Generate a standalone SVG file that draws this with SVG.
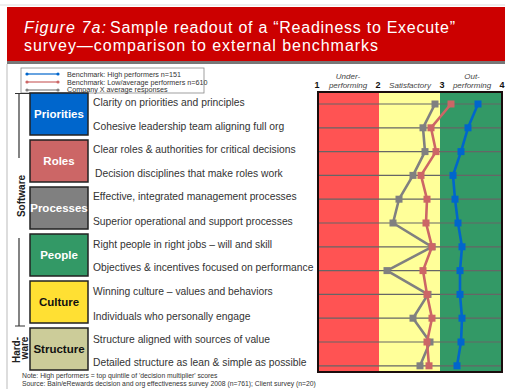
<svg xmlns="http://www.w3.org/2000/svg" width="505" height="389" viewBox="0 0 505 389">
<style>
.t{font-family:"Liberation Sans",Arial,sans-serif}
.item{font-family:"Liberation Sans",Arial,sans-serif;font-size:10.3px;fill:#333}
.nl{font-family:"Liberation Sans",Arial,sans-serif;font-size:11.5px;font-weight:bold;text-anchor:middle}
.box{stroke:#222;stroke-width:1.5}
.grid{stroke:#666;stroke-width:1.2}
.ax{font-family:"Liberation Sans",Arial,sans-serif;font-size:9px;font-weight:bold;fill:#111;text-anchor:middle}
.zl{font-family:"Liberation Sans",Arial,sans-serif;font-size:8px;font-style:italic;fill:#444;text-anchor:middle}
.lg{font-family:"Liberation Sans",Arial,sans-serif;font-size:7.2px;fill:#333}
.note{font-family:"Liberation Sans",Arial,sans-serif;font-size:6.8px;fill:#333}
.br{stroke:#333;stroke-width:1.2;fill:none}
.side{font-family:"Liberation Sans",Arial,sans-serif;font-size:10px;font-weight:bold;fill:#222;text-anchor:middle}
</style>
<defs>
<marker id="mb" markerWidth="8" markerHeight="8" refX="4" refY="4" markerUnits="userSpaceOnUse"><rect x="0.5" y="0.5" width="7" height="7" fill="#0066CC"/></marker>
<marker id="mr" markerWidth="8" markerHeight="8" refX="4" refY="4" markerUnits="userSpaceOnUse"><rect x="0.5" y="0.5" width="7" height="7" fill="#CC6666"/></marker>
<marker id="mg" markerWidth="8" markerHeight="8" refX="4" refY="4" markerUnits="userSpaceOnUse"><rect x="0.5" y="0.5" width="7" height="7" fill="#808080"/></marker>
<marker id="sb" markerWidth="4" markerHeight="4" refX="2" refY="2" markerUnits="userSpaceOnUse"><circle cx="2" cy="2" r="1.6" fill="#0066CC"/></marker>
<marker id="sr" markerWidth="4" markerHeight="4" refX="2" refY="2" markerUnits="userSpaceOnUse"><circle cx="2" cy="2" r="1.6" fill="#CC6666"/></marker>
<marker id="sg" markerWidth="4" markerHeight="4" refX="2" refY="2" markerUnits="userSpaceOnUse"><circle cx="2" cy="2" r="1.6" fill="#808080"/></marker>
</defs>
<rect width="505" height="389" fill="#fff"/>
<!-- title -->
<g id="title">
<line x1="0" y1="5" x2="505" y2="5" stroke="#ddd" stroke-width="1"/>
<rect x="7" y="7" width="498" height="54" fill="#CC0000"/>
<rect x="7" y="61" width="498" height="3" fill="#777"/>
<text class="t" x="24" y="33" font-size="16" fill="#fff" font-style="italic" textLength="82" lengthAdjust="spacing">Figure 7a:</text>
<text class="t" x="110" y="33" font-size="16" fill="#fff" textLength="345" lengthAdjust="spacing">Sample readout of a “Readiness to Execute”</text>
<text class="t" x="24" y="51" font-size="16" fill="#fff" textLength="354" lengthAdjust="spacing">survey—comparison to external benchmarks</text>
</g>
<line x1="7" y1="64" x2="7" y2="389" stroke="#bbb" stroke-width="1"/>
<!-- legend -->
<g id="legend">
<rect x="21" y="68" width="183" height="25" fill="#fff" stroke="#888" stroke-width="0.8"/>
<line x1="27" y1="74" x2="58" y2="74" stroke="#0066CC" stroke-width="1.2" marker-start="url(#sb)" marker-end="url(#sb)"/>
<line x1="27" y1="82" x2="58" y2="82" stroke="#CC6666" stroke-width="1.2" marker-start="url(#sr)" marker-end="url(#sr)"/>
<line x1="27" y1="90" x2="58" y2="90" stroke="#808080" stroke-width="1.2" marker-start="url(#sg)" marker-end="url(#sg)"/>
<text class="lg" x="67" y="76.5">Benchmark:  High performers n=151</text>
<text class="lg" x="67" y="84.5">Benchmark:  Low/average performers n=610</text>
<text class="lg" x="67" y="92">Company X average responses</text>
</g>
<!-- brackets -->
<g id="brackets">
<path class="br" d="M15 93.5 H30 M19 93.5 V158"/>
<path class="br" d="M19 238 V326 M15 326 H25"/>
<text class="side" transform="translate(24.5 196) rotate(-90)">Software</text>
<text class="side" transform="translate(19.5 350) rotate(-90)">Hard-</text>
<text class="side" transform="translate(28 348) rotate(-90)">ware</text>
</g>
<!-- nodes -->
<g id="priorities"><rect class="box" x="30" y="93" width="58" height="42" fill="#0066CC"/><text class="nl" x="59" y="118" fill="#fff">Priorities</text></g>
<g id="roles"><rect class="box" x="30" y="140" width="58" height="42" fill="#CC6666"/><text class="nl" x="59" y="165" fill="#fff">Roles</text></g>
<g id="processes"><rect class="box" x="30" y="187" width="58" height="42" fill="#808080"/><text class="nl" x="59" y="212" fill="#fff">Processes</text></g>
<g id="people"><rect class="box" x="30" y="234" width="58" height="42" fill="#339966"/><text class="nl" x="59" y="259" fill="#fff">People</text></g>
<g id="culture"><rect class="box" x="30" y="281" width="58" height="42" fill="#FFE033"/><text class="nl" x="59" y="306" fill="#111">Culture</text></g>
<g id="structure"><rect class="box" x="30" y="328" width="58" height="42" fill="#CCCC99"/><text class="nl" x="59" y="353" fill="#111">Structure</text></g>
<!-- items -->
<g id="items">
<text class="item" x="93" y="106">Clarity on priorities and principles</text>
<text class="item" x="93" y="130">Cohesive leadership team aligning full org</text>
<text class="item" x="93" y="153">Clear roles &amp; authorities for critical decisions</text>
<text class="item" x="95" y="177">Decision disciplines that make roles work</text>
<text class="item" x="93" y="200">Effective, integrated management processes</text>
<text class="item" x="93" y="225">Superior operational and support processes</text>
<text class="item" x="93" y="248">Right people in right jobs – will and skill</text>
<text class="item" x="93" y="271">Objectives &amp; incentives focused on performance</text>
<text class="item" x="93" y="295">Winning culture – values and behaviors</text>
<text class="item" x="93" y="320">Individuals who personally engage</text>
<text class="item" x="93" y="343">Structure aligned with sources of value</text>
<text class="item" x="93" y="366">Detailed structure as lean &amp; simple as possible</text>
</g>
<!-- chart -->
<g id="chart">
<text class="ax" x="317" y="88">1</text>
<text class="ax" x="378" y="88">2</text>
<text class="ax" x="442" y="88">3</text>
<text class="ax" x="502" y="88">4</text>
<text class="zl" x="348" y="79">Under-</text>
<text class="zl" x="348" y="88">performing</text>
<text class="zl" x="410" y="88">Satisfactory</text>
<text class="zl" x="472" y="79">Out-</text>
<text class="zl" x="472" y="88">performing</text>
<rect x="318" y="92" width="61" height="280" fill="#FF5353"/>
<rect x="379" y="92" width="61" height="280" fill="#FFFF99"/>
<rect x="440" y="92" width="62" height="280" fill="#339966"/>
<g class="grid">
<line x1="318" y1="104" x2="502" y2="104"/>
<line x1="318" y1="127.8" x2="502" y2="127.8"/>
<line x1="318" y1="151.6" x2="502" y2="151.6"/>
<line x1="318" y1="175.4" x2="502" y2="175.4"/>
<line x1="318" y1="199.2" x2="502" y2="199.2"/>
<line x1="318" y1="223" x2="502" y2="223"/>
<line x1="318" y1="246.8" x2="502" y2="246.8"/>
<line x1="318" y1="270.6" x2="502" y2="270.6"/>
<line x1="318" y1="294.4" x2="502" y2="294.4"/>
<line x1="318" y1="318.2" x2="502" y2="318.2"/>
<line x1="318" y1="342" x2="502" y2="342"/>
<line x1="318" y1="365.8" x2="502" y2="365.8"/>
</g>
<rect x="318" y="92" width="184" height="280" fill="none" stroke="#1a0d0d" stroke-width="2"/>
</g>
<!-- connectors / series -->
<g id="connectors" fill="none" stroke-width="2.6" stroke-linejoin="round">
<polyline stroke="#808080" marker-start="url(#mg)" marker-mid="url(#mg)" marker-end="url(#mg)" points="435,104 423,127.8 425,151.6 413,175.4 399,199.2 393,223 432,246.8 387,270.6 428,294.4 413,318.2 430,342 420,365.8"/>
<polyline stroke="#CC6666" marker-start="url(#mr)" marker-mid="url(#mr)" marker-end="url(#mr)" points="451,104 431,127.8 436,151.6 421,175.4 427,199.2 426,223 432,246.8 423,270.6 427,294.4 432,318.2 427,342 429,365.8"/>
<polyline stroke="#0066CC" marker-start="url(#mb)" marker-mid="url(#mb)" marker-end="url(#mb)" points="478,104 468,127.8 461,151.6 453,175.4 455,199.2 458,223 462,246.8 460,270.6 460,294.4 462,318.2 461,342 457,365.8"/>
</g>
<!-- notes -->
<g id="notes">
<text class="note" x="22" y="378">Note: High performers = top quintile of 'decision multiplier' scores</text>
<text class="note" x="22" y="386">Source: Bain/eRewards decision and org effectiveness survey 2008 (n=761); Client survey (n=20)</text>
</g>
</svg>
